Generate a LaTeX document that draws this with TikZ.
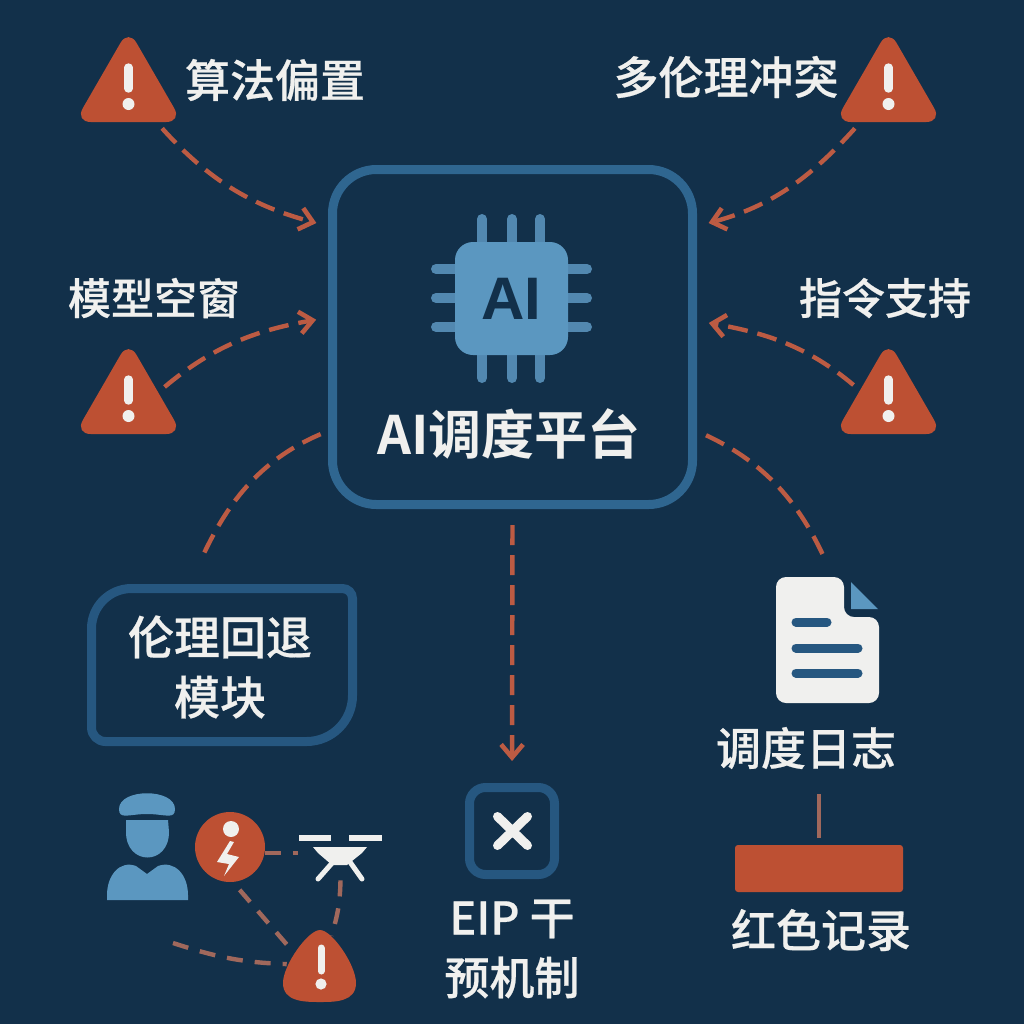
\documentclass[tikz,border=0pt]{standalone}
\usepackage{fontspec}
\setmainfont{Noto Sans CJK SC}[BoldFont={Noto Sans CJK SC Medium},BoldFeatures={FakeBold=0.5}]
\newfontfamily\chipfont{Liberation Sans}
\newfontfamily\titlefont{Noto Sans CJK SC Bold}
\definecolor{NightBg}{HTML}{12304A}
\definecolor{FrameBlue}{HTML}{2F6690}
\definecolor{FrameDim}{HTML}{265780}
\definecolor{ChipBlue}{HTML}{5B97C0}
\definecolor{PinBlue}{HTML}{5288B0}
\definecolor{AlertRed}{HTML}{BD5033}
\definecolor{DashRed}{HTML}{BC5B43}
\definecolor{MutedRed}{HTML}{A0685C}
\definecolor{PaperWhite}{HTML}{F0F0EE}
\usetikzlibrary{arrows.meta,shapes.geometric}

\begin{document}
\begin{tikzpicture}[x=0.5pt, y=0.5pt,
  every node/.style={font=\bfseries\fontsize{22.5}{30}\selectfont, text=PaperWhite, align=center},
  warn/.style={regular polygon, regular polygon sides=3, fill=AlertRed, minimum size=62pt,
    inner sep=0pt, rounded corners=8pt},
  link/.style={DashRed, line width=2.2pt, dash pattern=on 10pt off 5pt},
  linkarrow/.style={link, -{Straight Barb[length=6.5pt,width=11pt,line width=2.3pt]}},
  minor/.style={MutedRed, line width=2.2pt, dash pattern=on 8pt off 6pt},
  frame/.style={draw=FrameBlue, rounded corners=22pt, line width=4.5pt},
  pin/.style={PinBlue, line width=5pt, line cap=round},
  textline/.style={FrameDim, line width=4.5pt, line cap=round},
  smalllabel/.style={font=\bfseries\fontsize{21.5}{30}\selectfont}]
  \fill[NightBg] (0,0) rectangle (1024,-1024);
  \useasboundingbox (0,0) rectangle (1024,-1024);

  % platform and chip
  \node[frame, minimum width=180pt, minimum height=167.5pt] (platform) at (512.5,-337) {};
  \foreach \px in {482,512,540} {
    \draw[pin] (\px,-219) -- (\px,-378);
  }
  \foreach \py in {-269,-298,-327} {
    \draw[pin] (436,\py) -- (587,\py);
  }
  \node[fill=ChipBlue, rounded corners=9pt, minimum size=56.5pt, inner sep=0pt,
    text=NightBg, font=\chipfont\bfseries\fontsize{30}{30}\selectfont] (chip) at (511.5,-298.5) {\raisebox{-1.5pt}{AI}};
  \node[font=\titlefont\fontsize{26.5}{30}\selectfont] (platformLabel) at (509,-434) {AI调度平台};

  % warning signs
  \foreach \nm/\px/\py in {warnA/128.5/-91, warnB/888.5/-91, warnC/128.5/-403, warnD/888.5/-403} {
    \node[warn] (\nm) at (\px,\py) {};
    \draw[PaperWhite, line width=4.2pt, line cap=round] (\px,\py+23.5) -- (\px,\py+2.5);
    \fill[PaperWhite] (\px,\py-13) circle (3pt);
  }
  \node (labelA) at (275,-80) {算法偏置};
  \node (labelB) at (726,-77) {多伦理冲突};
  \node[smalllabel] (labelC) at (154,-298) {模型空窗};
  \node[smalllabel] (labelD) at (885,-298) {指令支持};

  \draw[linkarrow, shorten <=4pt, shorten >=6pt] (warnA) to[out=-48, in=165] (platform.149.6);
  \draw[linkarrow, shorten <=4pt, shorten >=6pt] (warnB) to[out=-132, in=15] (platform.31);
  \draw[linkarrow, shorten <=4pt, shorten >=6pt] (warnC.20) to[out=40, in=190] (platform.174.6);
  \draw[linkarrow, shorten <=4pt, shorten >=6pt] (warnD.156) to[out=140, in=-10] (platform.5.4);

  % fallback module
  \node[minimum width=134pt, minimum height=79pt, inner sep=0pt,
    font=\bfseries\fontsize{23}{30}\selectfont] (fallback) at (220,-667) {伦理回退\\模块};
  \draw[FrameDim, line width=4.5pt] (91.5,-665) [rounded corners=20pt] -- (91.5,-588.5)
    [rounded corners=5pt] -- (352.5,-588.5)
    [rounded corners=23pt] -- (352.5,-741.5)
    [rounded corners=7pt] -- (91.5,-741.5) -- (91.5,-665) -- cycle;
  \draw[link, shorten <=4pt, shorten >=15pt] (platform.207.3) to[out=203, in=65] (fallback.112);

  % log document
  \node[minimum width=51.5pt, minimum height=63pt, inner sep=0pt] (docIcon) at (827.5,-640) {};
  \fill[PaperWhite, rounded corners=5pt] (776,-577) -- (844,-577) -- (844,-617) -- (879,-617)
    -- (879,-703) -- (776,-703) -- cycle;
  \fill[ChipBlue] (851,-582) -- (851,-609) -- (878,-609) -- cycle;
  \draw[textline] (796,-622) -- (827,-622);
  \draw[textline] (796,-648) -- (858,-648);
  \draw[textline] (796,-673) -- (858,-673);
  \draw[link, shorten <=5pt, shorten >=11pt] (platform.-27.8) to[out=-25, in=115] (docIcon.85);
  \node (logLabel) at (806,-748) {调度日志};
  \node[fill=AlertRed, rounded corners=1.5pt, minimum width=84pt, minimum height=23.5pt, inner sep=0pt] (redBar) at (819,-868.5) {};
  \draw[MutedRed, line width=2.2pt, shorten <=9pt, shorten >=3.5pt] (redBar.north |- logLabel.south) -- (redBar.north);
  \node (redLabel) at (821,-930) {红色记录};

  % intervention
  \node[draw=FrameDim, rounded corners=8pt, line width=4.5pt, minimum width=42.5pt, minimum height=43.5pt,
    inner sep=0pt] (interv) at (512,-831) {};
  \draw[PaperWhite, line width=4.5pt, line cap=round] (497.5,-816.5) -- (527.5,-845.5);
  \draw[PaperWhite, line width=4.5pt, line cap=round] (527.5,-816.5) -- (497.5,-845.5);
  \draw[linkarrow, shorten <=8pt, shorten >=11pt] (platform.south) -- (interv.north);
  \node (intervLabel) at (512,-949) {EIP 干\\预机制};

  % operator, bolt, drone, alert
  \fill[ChipBlue] (119,-809) .. controls (119,-788) and (175,-788) .. (175,-809)
    .. controls (175,-820) and (165,-814) .. (147,-814) .. controls (129,-814) and (119,-820) .. (119,-809) -- cycle;
  \fill[ChipBlue] (126,-820) -- (168,-820) -- (169,-832) .. controls (169,-866) and (126,-866) .. (126,-832) -- cycle;
  \fill[ChipBlue] (107,-895) .. controls (107,-875) and (120,-860) .. (136,-866) -- (147,-874) -- (158,-866)
    .. controls (175,-860) and (188,-875) .. (188,-895) -- (188,-900) -- (107,-900) -- cycle;

  \node[circle, fill=AlertRed, minimum size=35pt, inner sep=0pt] (boltSign) at (230,-847) {};
  \fill[PaperWhite] (231,-829) circle (4pt);
  \fill[PaperWhite] (230,-841) -- (217,-862) -- (229,-864) -- (224,-876) -- (239,-857) -- (227,-854) -- (234,-842) -- cycle;

  \node[minimum width=42.5pt, minimum height=22pt, inner sep=0pt] (drone) at (340.5,-858) {};
  \draw[PaperWhite, line width=3pt] (299,-838) -- (331,-838);
  \draw[PaperWhite, line width=3pt] (349,-838) -- (382,-838);
  \fill[PaperWhite] (313,-847) -- (367,-847) -- (362,-853) -- (347,-865) -- (332,-865) -- (318,-853) -- cycle;
  \draw[PaperWhite, line width=2.5pt, line cap=round] (333,-862) -- (318,-879);
  \draw[PaperWhite, line width=2.5pt, line cap=round] (350,-862) -- (362,-879);

  \node[circle, minimum size=33pt, inner sep=0pt] (blob) at (320,-967) {};
  \fill[AlertRed] (320,-930) .. controls (332,-930) and (356,-965) .. (356,-983)
    .. controls (356,-1002) and (335,-1002) .. (320,-1002)
    .. controls (305,-1002) and (283,-1002) .. (283,-983)
    .. controls (283,-965) and (308,-930) .. (320,-930) -- cycle;
  \draw[PaperWhite, line width=3.5pt, line cap=round] (321,-948) -- (321,-971);
  \fill[PaperWhite] (321,-984) circle (2.8pt);

  \coordinate (strayEnd) at (173,-943);
  \draw[minor] (boltSign.-10) -- (boltSign.-10 -| drone.west);
  \draw[minor, shorten <=5pt] (boltSign.-85) -- (blob.149);
  \draw[minor] (drone.south) to[bend left=8] (blob.70);
  \draw[minor] (strayEnd) to[out=-18, in=178] (blob.175);
\end{tikzpicture}
\end{document}
